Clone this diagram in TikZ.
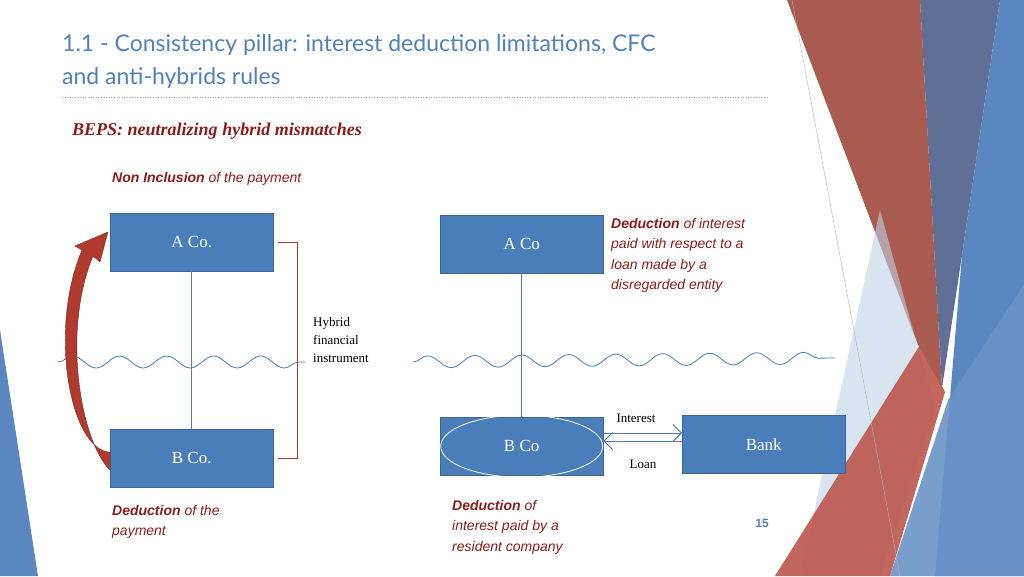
\documentclass[tikz,border=0pt]{standalone}
\usepackage{fontspec}
\setmainfont{Liberation Serif}
\setsansfont{Liberation Sans}
\newfontfamily\titlefont{Lato}
\usetikzlibrary{positioning, arrows.meta, decorations.pathmorphing}
\definecolor{titleCol}{HTML}{4F81BD}
\definecolor{boxCol}{HTML}{4A7EBB}
\definecolor{redCol}{HTML}{8E1B1B}
\definecolor{arrowCol}{HTML}{B03A2E}
\definecolor{bandRed}{HTML}{A0493D}
\definecolor{bandGray}{HTML}{5F6F95}
\definecolor{bandBlue}{HTML}{5B87C0}

\begin{document}
\begin{tikzpicture}[x=1pt, y=-1pt,
    % Node styles
    cobox/.style={
        rectangle,
        draw=boxCol!80!black,
        fill=boxCol,
        text=white,
        font=\fontsize{17}{19}\selectfont,
        minimum width=163pt,
        minimum height=58pt,
        anchor=north west
    },
    note/.style={
        font=\sffamily\itshape\fontsize{14}{20.5}\selectfont,
        text=redCol,
        align=left,
        anchor=north west,
        inner sep=0pt
    },
    small/.style={
        font=\fontsize{13}{18}\selectfont,
        anchor=north west,
        inner sep=0pt,
        align=left
    },
    link/.style={
        draw=boxCol,
        line width=0.8pt
    },
    wave/.style={
        draw=boxCol,
        line width=0.8pt,
        decorate,
        decoration={snake, amplitude=6pt, segment length=47pt}
    },
    flow/.style={
        -{Straight Barb[length=3mm]},
        draw=boxCol,
        line width=0.9pt
    }
]
    \useasboundingbox (0,0) rectangle (1024,576);

    % ==== DECORATION ====
    \fill[bandRed, opacity=0.9] (787,0) -- (920,0) -- (942,388) -- (918,345) -- cycle;
    \fill[bandGray] (920,0) -- (1000,0) -- (962,255) -- (942,388) -- cycle;
    \fill[bandBlue] (1000,0) -- (1024,0) -- (1024,576) -- (935,576) -- (962,255) -- cycle;
    \fill[boxCol!35, opacity=0.6] (880,210) -- (935,410) -- (880,576) -- (800,576) -- cycle;
    \fill[arrowCol!85, opacity=0.9] (775,576) -- (920,345) -- (945,392) -- (890,576) -- cycle;
    \fill[bandBlue!90, opacity=0.9] (890,576) -- (948,400) -- (1024,285) -- (1024,576) -- cycle;
    \fill[bandBlue] (0,330) -- (38,576) -- (0,576) -- cycle;
    \draw[gray!60, line width=0.4pt] (792,0) -- (900,576);

    % ==== HEADER ====
    \node[anchor=west, inner sep=0pt, text=titleCol, font=\titlefont\fontsize{23}{26}\selectfont] (title1) at (62,45) {1.1 - Consistency pillar: interest deduction limitations, CFC};
    \node[anchor=west, inner sep=0pt, text=titleCol, font=\titlefont\fontsize{23}{26}\selectfont] (title2) at (62,78) {and anti-hybrids rules};
    \draw[titleCol!70, dotted, line width=0.6pt] (62,97) -- (768,97);
    \node[anchor=west, inner sep=0pt, text=redCol, font=\bfseries\itshape\fontsize{18}{20}\selectfont] (beps) at (72,131) {BEPS:\ neutralizing hybrid mismatches};
    \node[note] (noninc) at (112,172) {\textbf{Non Inclusion} of the payment};

    % ==== LEFT CASE ====
    \node[cobox] (aco) at (110,213) {A Co.};
    \node[cobox] (bco) at (110,429) {B Co.};
    \draw[link] (aco) -- (bco);
    \draw[wave] (58,362) -- (305,362);
    \draw[arrowCol, line width=1.2pt] ([xshift=5pt, yshift=0pt]aco.east) -- ++(19,0) coordinate (brtop)
        |- ([xshift=5pt]bco.east);
    \node[small] (hybrid) at (313,317) {Hybrid\\financial\\instrument};
    \fill[arrowCol, draw=arrowCol!70!black, line width=0.4pt]
        ([yshift=6pt]bco.west) .. controls (70,450) and (48,330) .. (82,250)
        -- (75,246) -- (108,232) -- (100,262) -- (93,256)
        .. controls (62,330) and (80,440) .. ([yshift=-12pt]bco.west) -- cycle;
    \node[note] (dedleft) at (112,505) {\textbf{Deduction} of the\\payment};

    % ==== RIGHT CASE ====
    \node[cobox] (aco2) at (440,215) {A Co};
    \node[cobox] (bco2) at (440,417) {B Co};
    \node[cobox] (bank) at (682,415) {Bank};
    \draw[white, line width=0.8pt] (bco2.center) ellipse (81pt and 31pt);
    \draw[link] (aco2) -- (bco2);
    \draw[wave] (413,362) -- (835,358);
    \draw[flow] ([yshift=-1pt]bco2.east |- 0,432) coordinate (intA) -- (intA -| bank.west);
    \draw[flow] ([yshift=0pt]bank.west |- 0,441) coordinate (loanA) -- (loanA -| bco2.east);
    \node[small, anchor=south] (interest) at (636,423) {Interest};
    \node[small, anchor=north] (loan) at (643,460) {Loan};
    \node[note] (dedright) at (611,218) {\textbf{Deduction} of interest\\paid with respect to a\\loan made by a\\disregarded entity};
    \node[note] (dedres) at (452,500) {\textbf{Deduction} of\\interest paid by a\\resident company};

    % ==== PAGE NUMBER ====
    \node[text=titleCol, font=\sffamily\bfseries\fontsize{12}{14}\selectfont] (page) at (762,523) {15};
\end{tikzpicture}
\end{document}
